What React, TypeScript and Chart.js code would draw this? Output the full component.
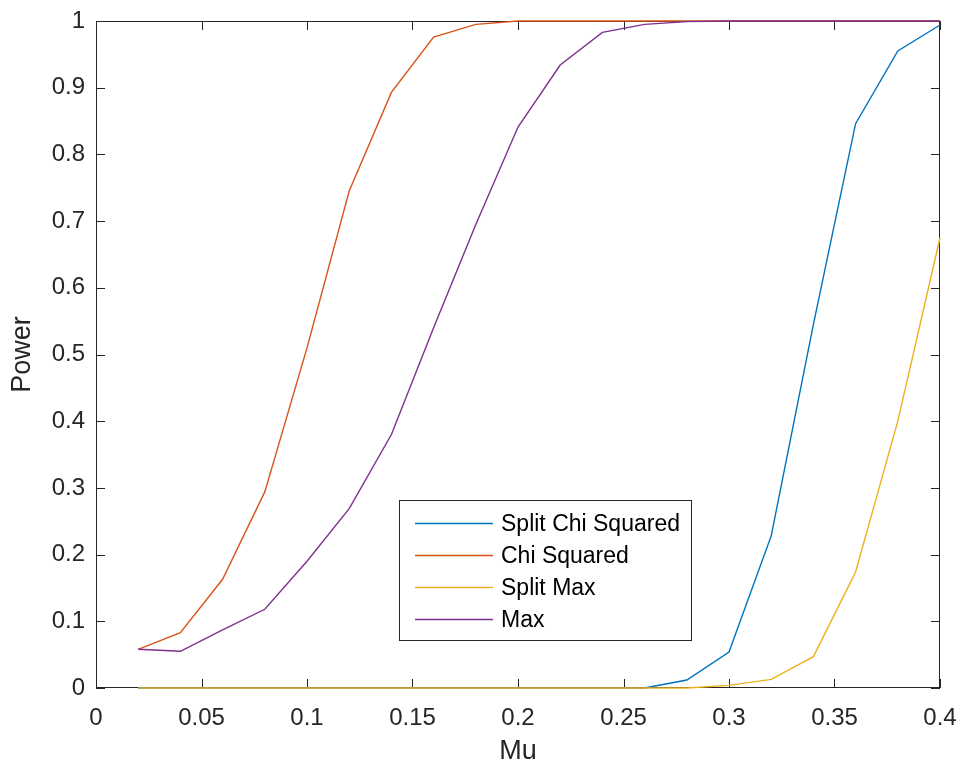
import React, { useEffect, useRef } from "react";
import { Chart, registerables } from "chart.js";

Chart.register(...registerables);

const mu = [0.02, 0.04, 0.06, 0.08, 0.1, 0.12, 0.14, 0.16, 0.18, 0.2, 0.22, 0.24, 0.26, 0.28, 0.3, 0.32, 0.34, 0.36, 0.38, 0.4];
const splitChiSquared = [0, 0, 0, 0, 0, 0, 0, 0, 0, 0, 0, 0, 0, 0.012, 0.054, 0.228, 0.545, 0.846, 0.955, 0.994];
const chiSquared = [0.058, 0.083, 0.163, 0.294, 0.51, 0.745, 0.893, 0.976, 0.995, 1, 1, 1, 1, 1, 1, 1, 1, 1, 1, 1];
const splitMax = [0, 0, 0, 0, 0, 0, 0, 0, 0, 0, 0, 0, 0, 0, 0.004, 0.013, 0.047, 0.174, 0.4, 0.675];
const maxSeries = [0.058, 0.055, 0.087, 0.118, 0.19, 0.269, 0.38, 0.54, 0.695, 0.841, 0.934, 0.983, 0.995, 0.999, 1, 1, 1, 1, 1, 1];

const seriesNames = ["Split Chi Squared", "Chi Squared", "Split Max", "Max"];
const seriesColors = ["#0072BD", "#D95319", "#EDB120", "#7E2F8E"];
const seriesValues = [splitChiSquared, chiSquared, splitMax, maxSeries];

const xTitle = "Mu";
const yTitle = "Power";

const AXIS_COLOR = "#262626";
const FONT = "'Liberation Sans', Arial, Helvetica, sans-serif";

const fmt = (v: number) => String(Number(Number(v).toFixed(3)));

const boxPlugin = {
  id: "matlabBox",
  beforeDatasetsDraw(chart: any) {
    const { ctx, chartArea: a, scales } = chart;
    ctx.save();
    ctx.strokeStyle = AXIS_COLOR;
    ctx.lineWidth = 1;
    ctx.strokeRect(a.left + 0.5, a.top + 0.5, a.right - a.left - 1, a.bottom - a.top - 1);
    const tl = 9;
    ctx.beginPath();
    for (const t of scales.x.ticks) {
      const px = Math.round(scales.x.getPixelForValue(t.value)) + 0.5;
      ctx.moveTo(px, a.bottom);
      ctx.lineTo(px, a.bottom - tl);
      ctx.moveTo(px, a.top);
      ctx.lineTo(px, a.top + tl);
    }
    for (const t of scales.y.ticks) {
      const py = Math.round(scales.y.getPixelForValue(t.value)) + 0.5;
      ctx.moveTo(a.left, py);
      ctx.lineTo(a.left + tl, py);
      ctx.moveTo(a.right, py);
      ctx.lineTo(a.right - tl, py);
    }
    ctx.stroke();
    ctx.restore();
  },
  afterDatasetsDraw(chart: any) {
    const { ctx } = chart;
    const bx = 399.5, by = 500.5, bw = 292, bh = 140;
    ctx.save();
    ctx.fillStyle = "#ffffff";
    ctx.fillRect(bx, by, bw, bh);
    ctx.strokeStyle = AXIS_COLOR;
    ctx.lineWidth = 1;
    ctx.strokeRect(bx, by, bw, bh);
    ctx.font = `23px ${FONT}`;
    ctx.textBaseline = "middle";
    ctx.textAlign = "left";
    seriesNames.forEach((name, i) => {
      const cy = 523.5 + i * 32;
      ctx.strokeStyle = seriesColors[i];
      ctx.lineWidth = 1.3;
      ctx.beginPath();
      ctx.moveTo(415, cy);
      ctx.lineTo(493, cy);
      ctx.stroke();
      ctx.fillStyle = "#000000";
      ctx.fillText(name, 501, cy + 1);
    });
    ctx.restore();
  },
};

const zeroPad = (s: any) => {
  s.paddingTop = 0;
  s.paddingBottom = 0;
  s.paddingLeft = 0;
  s.paddingRight = 0;
};

export default function App() {
  const ref = useRef<HTMLCanvasElement | null>(null);
  useEffect(() => {
    if (!ref.current) return;
    const datasets = seriesNames.map((name, i) => ({
      label: name,
      data: mu.map((x, j) => ({ x, y: seriesValues[i][j] })),
      borderColor: seriesColors[i],
      backgroundColor: seriesColors[i],
      borderWidth: 1.4,
      pointRadius: 0,
      tension: 0,
      fill: false,
      clip: 2,
      order: seriesNames.length - 1 - i,
    }));
    const chart = new Chart(ref.current, {
      type: "line",
      data: { datasets },
      options: {
        animation: false,
        responsive: true,
        maintainAspectRatio: false,
        layout: { padding: { top: 21, right: 23, left: 0, bottom: 0 } },
        plugins: { legend: { display: false }, tooltip: { enabled: false } },
        scales: {
          x: {
            type: "linear",
            min: 0,
            max: 0.4,
            border: { display: false },
            grid: { display: false, drawTicks: false },
            ticks: {
              stepSize: 0.05,
              color: AXIS_COLOR,
              font: { family: FONT, size: 24 },
              padding: 16,
              maxRotation: 0,
              callback: (v: any) => fmt(v),
            },
            title: {
              display: true,
              text: xTitle,
              color: AXIS_COLOR,
              font: { family: FONT, size: 27 },
              padding: { top: 0, bottom: 0 },
            },
            afterFit: (s: any) => {
              s.height = 80;
              zeroPad(s);
            },
          },
          y: {
            type: "linear",
            min: 0,
            max: 1,
            border: { display: false },
            grid: { display: false, drawTicks: false },
            ticks: {
              stepSize: 0.1,
              color: AXIS_COLOR,
              font: { family: FONT, size: 24 },
              padding: 11,
              callback: (v: any) => fmt(v),
            },
            title: {
              display: true,
              text: yTitle,
              color: AXIS_COLOR,
              font: { family: FONT, size: 27 },
              padding: { top: 6, bottom: 0 },
            },
            afterFit: (s: any) => {
              s.width = 96;
              zeroPad(s);
            },
          },
        },
      },
      plugins: [boxPlugin],
    });
    return () => chart.destroy();
  }, []);
  return (
    <div style={{ position: "fixed", left: 0, top: 0, width: 963, height: 768, background: "#fff" }}>
      <canvas ref={ref} />
    </div>
  );
}
